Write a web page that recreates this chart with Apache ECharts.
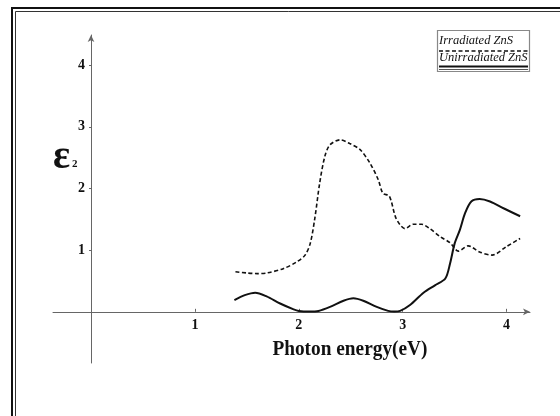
<!DOCTYPE html>
<html>
<head>
<meta charset="utf-8">
<script src="https://cdn.jsdelivr.net/npm/echarts@6/dist/echarts.min.js"></script>
<style>html,body{margin:0;padding:0;background:#fff}#c{width:560px;height:416px}</style>
</head>
<body>
<div id="c"></div>
<script>
var irradiatedX = [1.39, 1.50, 1.60, 1.69, 1.85, 1.98, 2.06, 2.11, 2.156, 2.20, 2.25, 2.30, 2.40, 2.49, 2.59, 2.685, 2.765, 2.81, 2.87, 2.93, 2.975, 3.02, 3.10, 3.18, 3.26, 3.36, 3.455, 3.535, 3.63, 3.74, 3.86, 4.00, 4.13];
var irradiatedY = [0.65, 0.63, 0.62, 0.63, 0.70, 0.81, 0.92, 1.11, 1.54, 2.08, 2.52, 2.71, 2.79, 2.73, 2.63, 2.41, 2.14, 1.92, 1.88, 1.54, 1.41, 1.35, 1.42, 1.42, 1.35, 1.22, 1.12, 0.985, 1.07, 0.97, 0.92, 1.06, 1.19];
var unirradiatedX = [1.38, 1.48, 1.58, 1.69, 1.82, 1.95, 2.00, 2.10, 2.19, 2.30, 2.43, 2.525, 2.62, 2.75, 2.86, 2.92, 2.975, 3.07, 3.20, 3.31, 3.41, 3.455, 3.50, 3.55, 3.60, 3.66, 3.74, 3.84, 3.97, 4.13];
var unirradiatedY = [0.19, 0.27, 0.31, 0.25, 0.135, 0.04, 0.015, 0.005, 0.015, 0.08, 0.18, 0.22, 0.18, 0.08, 0.015, 0.005, 0.015, 0.11, 0.31, 0.43, 0.54, 0.78, 1.11, 1.33, 1.60, 1.79, 1.83, 1.79, 1.68, 1.55];
var tickValues = [1, 2, 3, 4];
var seriesNames = ['Irradiated ZnS', 'Unirradiated ZnS'];
var xTitle = 'Photon energy(eV)';
var yTitle = 'ε';
var yTitleSub = '2';

function pairs(xs, ys) { return xs.map(function (x, i) { return [x, ys[i]]; }); }

var serif = '"Liberation Serif", "DejaVu Serif", serif';
var axisColor = '#666';
var chart = echarts.init(document.getElementById('c'));
chart.setOption({
  animation: false,
  backgroundColor: '#fff',
  grid: { left: 53, right: 30, top: 35, bottom: 53, containLabel: false },
  xAxis: {
    type: 'value', min: -0.366, max: 4.225,
    splitLine: { show: false },
    axisLine: { onZero: true, lineStyle: { color: axisColor, width: 1 }, symbol: ['none', 'arrow'], symbolSize: [5, 7] },
    axisTick: { customValues: tickValues, inside: true, length: 3, lineStyle: { color: axisColor } },
    axisLabel: { customValues: tickValues, color: '#111', fontFamily: serif, fontWeight: 'bold', fontSize: 14, margin: -45 }
  },
  yAxis: {
    type: 'value', min: -0.83, max: 4.49,
    splitLine: { show: false },
    axisLine: { onZero: true, lineStyle: { color: axisColor, width: 1 }, symbol: ['none', 'arrow'], symbolSize: [5, 7] },
    axisTick: { customValues: tickValues, inside: false, length: 2, lineStyle: { color: axisColor } },
    axisLabel: { customValues: tickValues, color: '#111', fontFamily: serif, fontWeight: 'bold', fontSize: 14, margin: -32 }
  },
  series: [
    { name: seriesNames[0], type: 'line', data: pairs(irradiatedX, irradiatedY), smooth: 0.3, symbol: 'none',
      lineStyle: { color: '#111', width: 1.6, type: [4, 2.5] } },
    { name: seriesNames[1], type: 'line', data: pairs(unirradiatedX, unirradiatedY), smooth: 0.3, symbol: 'none',
      lineStyle: { color: '#111', width: 2, type: 'solid' } }
  ],
  graphic: [
    { type: 'polyline', shape: { points: [[12, 420], [12, 8], [565, 8]] }, style: { stroke: '#111', lineWidth: 2, fill: null } },
    { type: 'polyline', shape: { points: [[15.5, 420], [15.5, 11.5], [565, 11.5]] }, style: { stroke: '#333', lineWidth: 1, fill: null } },
    { type: 'rect', shape: { x: 437.5, y: 30.5, width: 92, height: 41 }, style: { stroke: '#888', lineWidth: 1.2, fill: '#fff' } },
    { type: 'text', x: 439, y: 47, style: { text: seriesNames[0], fontFamily: serif, fontStyle: 'italic', fontSize: 12.5, fill: '#111', textVerticalAlign: 'bottom' } },
    { type: 'line', shape: { x1: 439, y1: 51, x2: 528, y2: 51 }, style: { stroke: '#111', lineWidth: 1.6, lineDash: [4, 2.5] } },
    { type: 'text', x: 439, y: 64, style: { text: seriesNames[1], fontFamily: serif, fontStyle: 'italic', fontSize: 12.5, fill: '#111', textVerticalAlign: 'bottom' } },
    { type: 'line', shape: { x1: 439, y1: 66.5, x2: 528, y2: 66.5 }, style: { stroke: '#111', lineWidth: 2 } },
    { type: 'line', shape: { x1: 439, y1: 69.5, x2: 528, y2: 69.5 }, style: { stroke: '#555', lineWidth: 1 } },
    { type: 'text', x: 324, y: 350, scaleX: 0.92, originX: 324, originY: 350,
      style: { text: xTitle, fontFamily: serif, fontWeight: 'bold', fontSize: 21, fill: '#111', textAlign: 'center', textVerticalAlign: 'middle' } },
    { type: 'text', x: 53, y: 158, style: { text: yTitle, fontFamily: serif, fontWeight: 'bold', fontSize: 40, fill: '#111', textVerticalAlign: 'middle' } },
    { type: 'text', x: 72, y: 164, style: { text: yTitleSub, fontFamily: serif, fontWeight: 'bold', fontSize: 11, fill: '#111', textVerticalAlign: 'middle' } }
  ]
});
</script>
</body>
</html>
